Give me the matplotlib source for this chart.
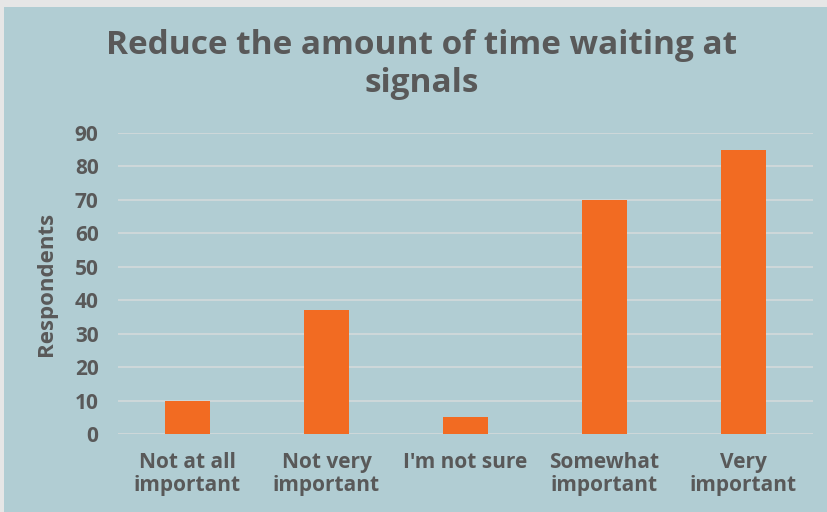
import matplotlib
matplotlib.use("Agg")
import matplotlib.pyplot as plt
from matplotlib.patches import Rectangle

categories = ["Not at all\nimportant", "Not very\nimportant", "I'm not sure",
              "Somewhat\nimportant", "Very\nimportant"]
respondents = [10, 37, 5, 70, 85]
yticks = [0, 10, 20, 30, 40, 50, 60, 70, 80, 90]

BG = "#b1cdd3"
BAR = "#f26b22"
TXT = "#595959"
GRID = "#d3dadb"

plt.rcParams['font.family'] = ['Open Sans', 'DejaVu Sans']

fig = plt.figure(figsize=(8.27, 5.12), dpi=100)
fig.patch.set_facecolor("#e6e6e6")
panel = Rectangle((4 / 827, 0), 1, 1 - 7 / 512, transform=fig.transFigure,
                  facecolor=BG, edgecolor="none", zorder=-1)
fig.add_artist(panel)

ax = fig.add_axes([118 / 827, 1 - 434 / 512, (813 - 118) / 827, (434 - 133) / 512])
ax.set_zorder(2)
ax.set_facecolor(BG)
x = range(len(categories))
ax.bar(x, respondents, width=0.32, color=BAR, zorder=3)
ax.set_xlim(-0.5, 4.5)
ax.set_ylim(0, 90)
ax.set_yticks(yticks)
ax.grid(axis='y', color=GRID, linewidth=1.2, zorder=0)
for s in ax.spines.values():
    s.set_visible(False)
ax.tick_params(length=0)
ax.tick_params(axis='y', pad=14)
ax.tick_params(axis='x', pad=13)
ax.set_xticks(list(x))
ax.set_xticklabels(categories, fontsize=15, fontweight='bold', color=TXT, linespacing=1.15)
for lab in ax.get_yticklabels():
    lab.set_fontsize(15)
    lab.set_fontweight('bold')
    lab.set_color(TXT)
ax.set_ylabel("Respondents", fontsize=16, fontweight='bold', color=TXT)
ax.yaxis.set_label_coords(-0.088, 0.5)

fig.text(0.51, 1 - 65 / 512, "Reduce the amount of time waiting at\nsignals", ha='center', va='center',
         fontsize=24, fontweight='bold', color=TXT, linespacing=1.2, zorder=3)

fig.savefig("out.png", dpi=100, facecolor=fig.get_facecolor())
